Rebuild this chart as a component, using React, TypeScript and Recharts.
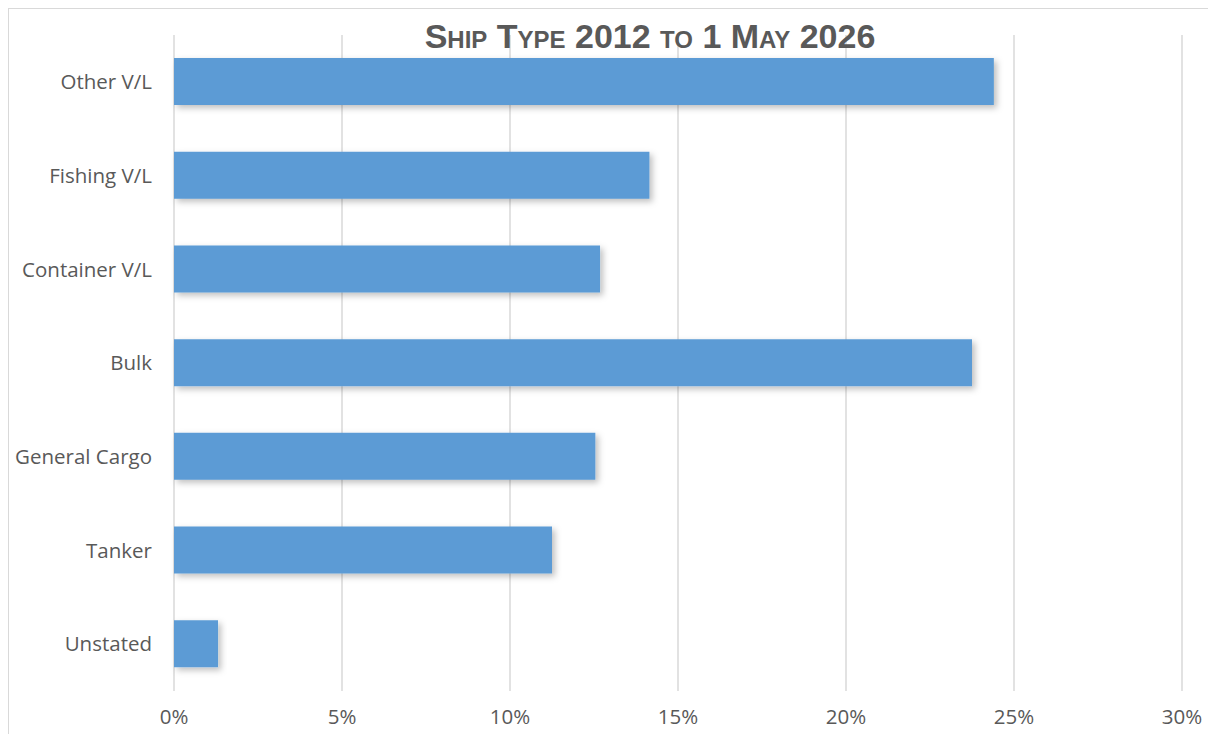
import React from "react";
import { BarChart, Bar, XAxis, YAxis, CartesianGrid } from "recharts";

const categories = ["Other V/L", "Fishing V/L", "Container V/L", "Bulk", "General Cargo", "Tanker", "Unstated"];
const shares = [24.4, 14.15, 12.68, 23.75, 12.54, 11.25, 1.31];
const xTicks = [0, 5, 10, 15, 20, 25, 30];

const data = categories.map((name, i) => ({ name, value: shares[i] }));

const TEXT = "#595959";
const GRID = "#d9d9d9";
const BAR = "#5b9bd5";

export default function App() {
    return (
        <div style={{ position: "absolute", left: 0, top: 0, width: 1208, height: 734, background: "#fff", overflow: "hidden" }}>
            {/* chart frame */}
            <div
                style={{
                    position: "absolute",
                    left: 8,
                    top: 8,
                    width: 1300,
                    height: 900,
                    border: `1.5px solid ${GRID}`,
                }}
            />
            <div style={{ position: "absolute", left: 0, top: 0 }}>
                <BarChart
                    width={1208}
                    height={734}
                    data={data}
                    layout="vertical"
                    barSize={47}
                    margin={{ top: 35, right: 26, bottom: 0, left: 0 }}
                >
                    <defs>
                        <filter id="barShadow" x="-10%" y="-40%" width="130%" height="190%">
                            <feDropShadow dx="3" dy="3" stdDeviation="3" floodColor="#000" floodOpacity="0.25" />
                        </filter>
                    </defs>
                    <CartesianGrid horizontal={false} stroke={GRID} strokeWidth={1.5} />
                    <XAxis
                        type="number"
                        dataKey="value"
                        domain={[0, 30]}
                        ticks={xTicks}
                        tickFormatter={(v) => `${v}%`}
                        axisLine={false}
                        tickLine={false}
                        tickMargin={12}
                        height={43}
                        tick={{ fill: TEXT, fontSize: 20.5, fontFamily: "Open Sans" }}
                    />
                    <YAxis
                        type="category"
                        dataKey="name"
                        width={174}
                        axisLine={false}
                        tickLine={false}
                        tickMargin={16}
                        tick={{ fill: TEXT, fontSize: 20.5, fontFamily: "Open Sans" }}
                    />
                    <Bar dataKey="value" fill={BAR} style={{ filter: "url(#barShadow)" }} isAnimationActive={false} />
                </BarChart>
            </div>
            <div
                style={{
                    position: "absolute",
                    left: 650,
                    top: 16,
                    transform: "translateX(-50%)",
                    whiteSpace: "nowrap",
                    color: TEXT,
                    fontFamily: "Liberation Sans",
                    fontWeight: 700,
                    fontSize: 34,
                    fontVariant: "small-caps",
                    lineHeight: "40px",
                }}
            >
                Ship Type 2012 to 1 May 2026
            </div>
        </div>
    );
}
